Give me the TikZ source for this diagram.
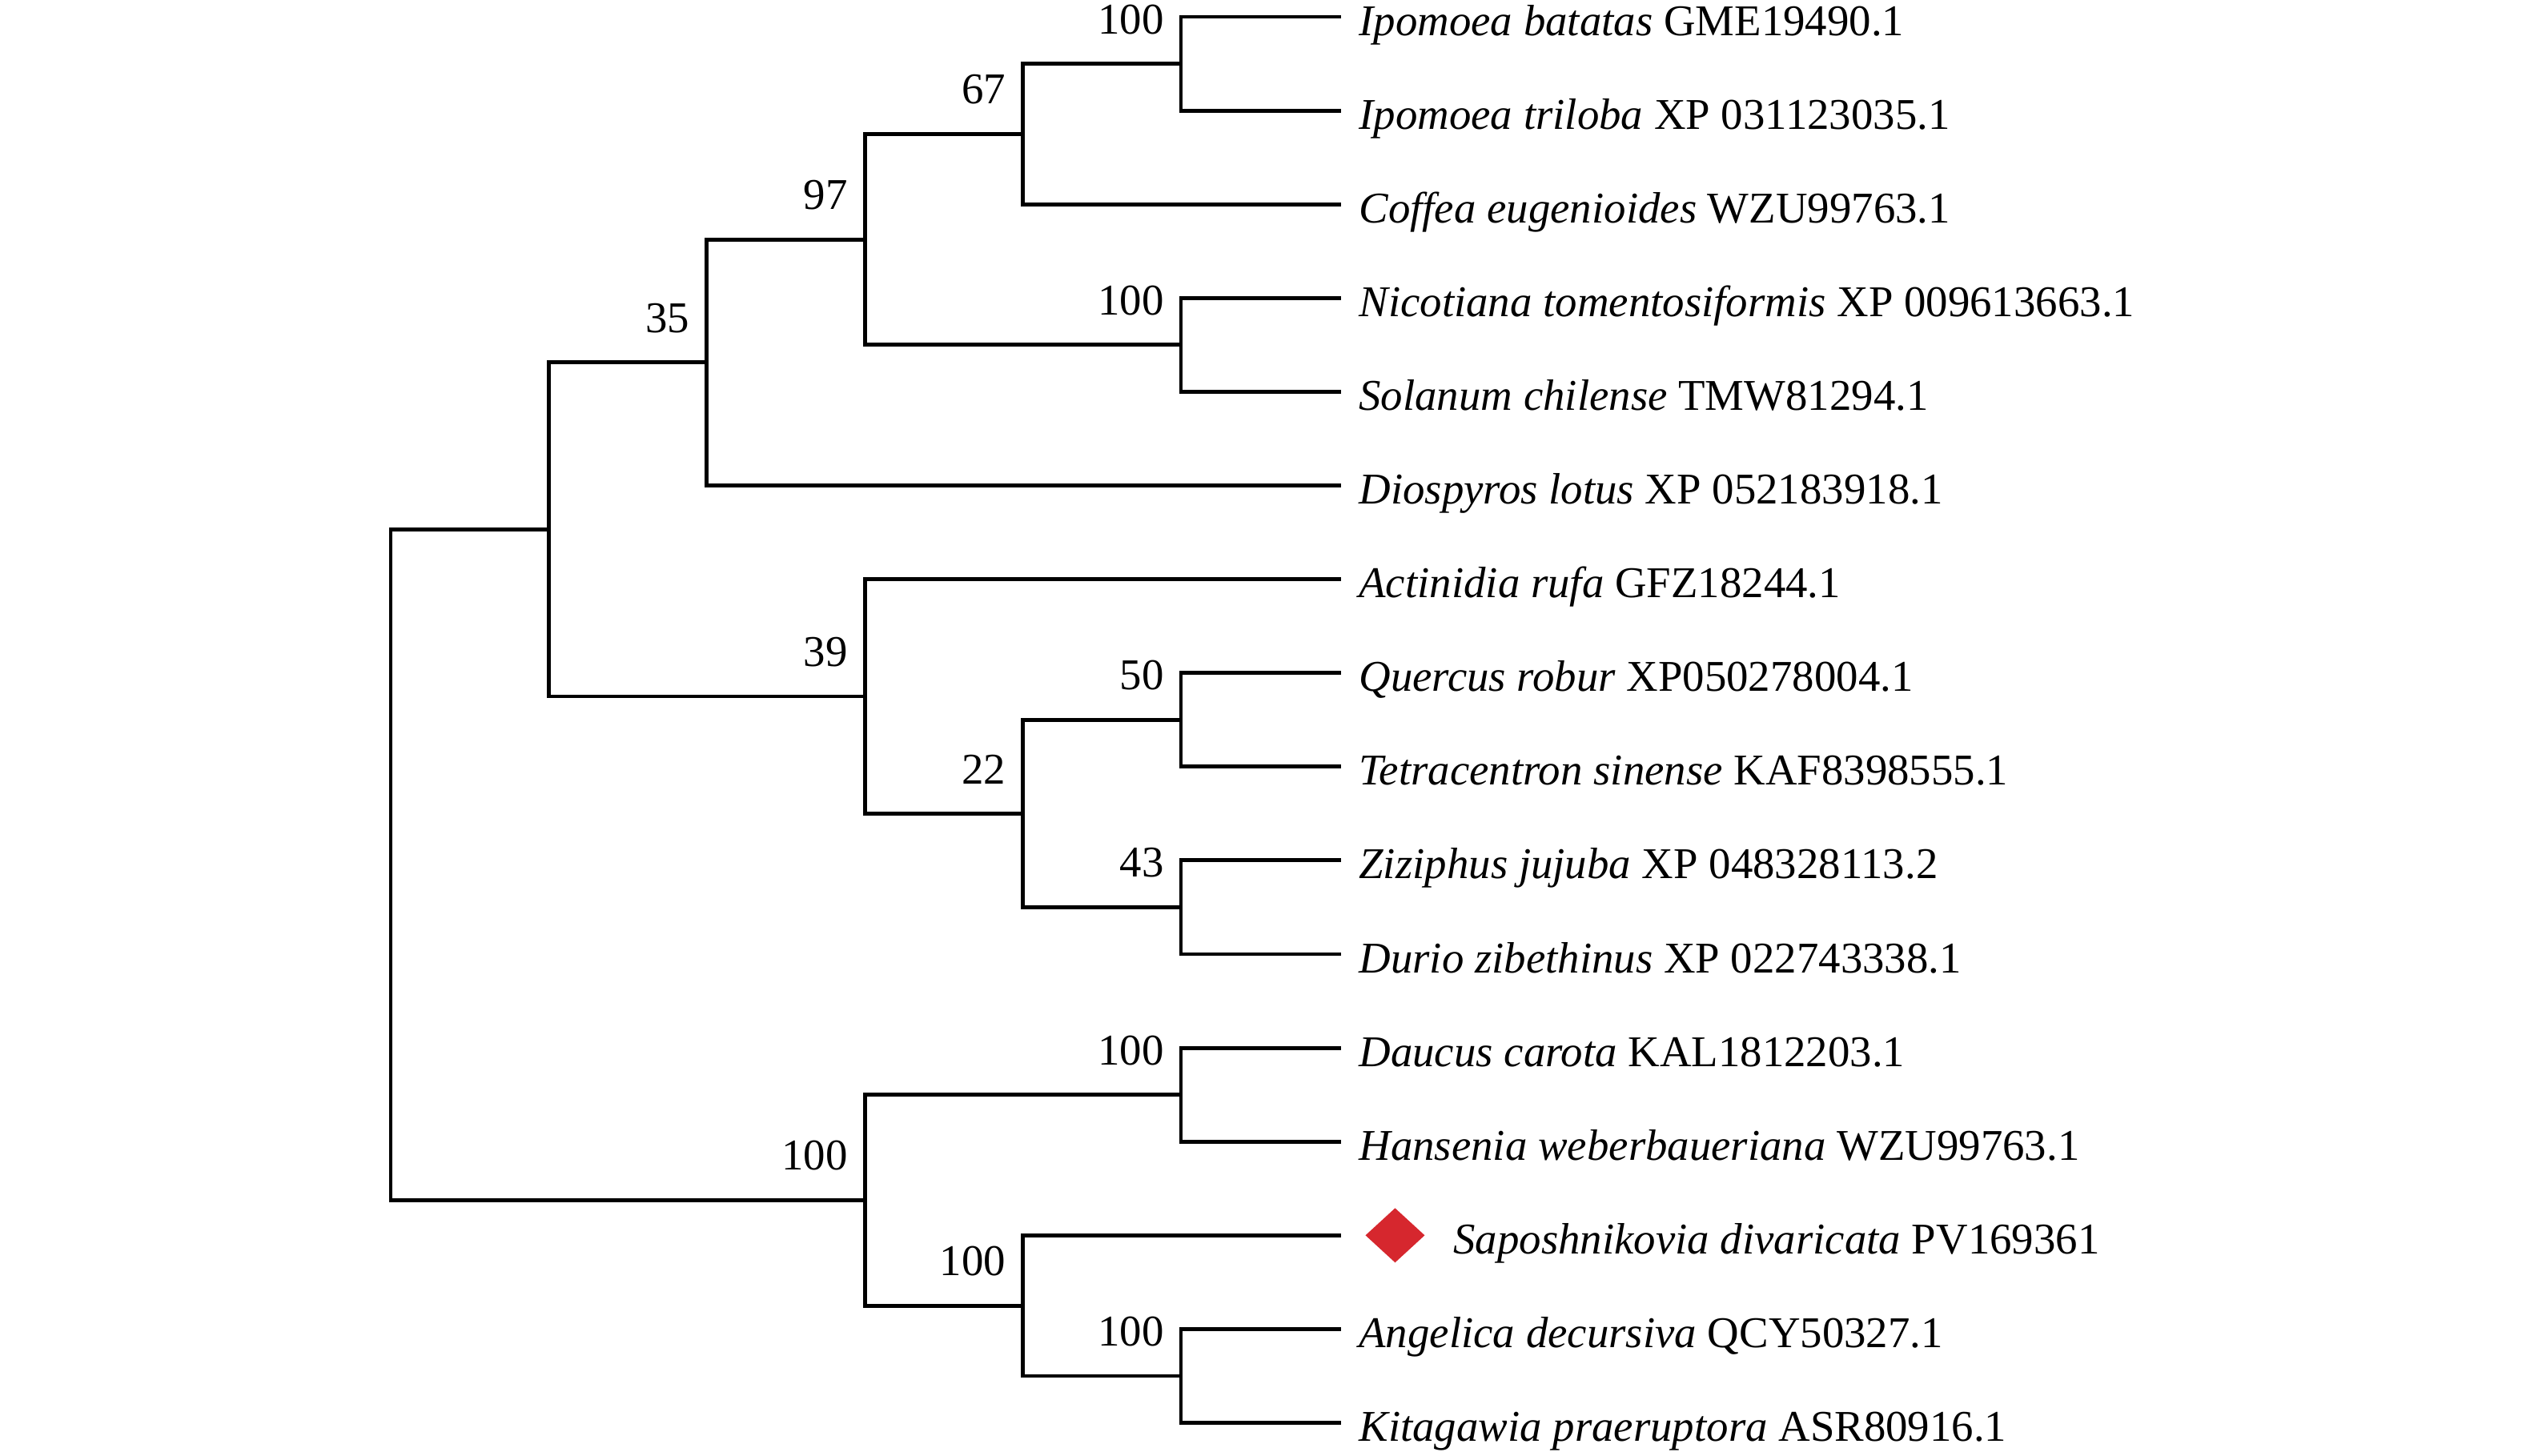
\documentclass[tikz,border=0pt]{standalone}
\usepackage{fontspec}
\setmainfont{Liberation Serif}
\usetikzlibrary{positioning,shapes.geometric}
\definecolor{markred}{RGB}{214,39,46}
\newcommand{\treefont}{\fontsize{15.6pt}{18pt}\selectfont}

\begin{document}
\begin{tikzpicture}
    [x=1cm,y=-1.171cm,line width=1.4pt,line cap=rect,
     every node/.style={font=\treefont},
     leaf/.style={anchor=west, inner xsep=0.22cm, inner ysep=0pt, text height=16.4pt, text depth=3.3pt},
     boot/.style={anchor=south east, inner sep=0pt, xshift=-0.19cm, yshift=0.345cm},
     hilite/.style={diamond, fill=markred, inner sep=0pt, minimum width=0.76cm, minimum height=0.70cm}]
  \useasboundingbox (0,-0.1793) rectangle (31.5,15.346);

  % internal nodes, y in leaf rows
  \coordinate (n0) at (4.88,9.046875);
  \coordinate (n1) at (6.854,5.46875);
  \coordinate (n2) at (8.828,3.6875);
  \coordinate (n3) at (10.802,2.375);
  \coordinate (n4) at (12.776,1.25);
  \coordinate (n5) at (14.75,0.5);
  \coordinate (n6) at (14.75,3.5);
  \coordinate (n7) at (10.802,7.25);
  \coordinate (n8) at (12.776,8.5);
  \coordinate (n9) at (14.75,7.5);
  \coordinate (n10) at (14.75,9.5);
  \coordinate (n11) at (10.802,12.625);
  \coordinate (n12) at (14.75,11.5);
  \coordinate (n13) at (12.776,13.75);
  \coordinate (n14) at (14.75,14.5);

  % leaves
  \foreach \i/\sp/\acc in {0/Ipomoea batatas/GME19490.1, 1/Ipomoea triloba/XP 031123035.1,
      2/Coffea eugenioides/WZU99763.1, 3/Nicotiana tomentosiformis/XP 009613663.1,
      4/Solanum chilense/TMW81294.1, 5/Diospyros lotus/XP 052183918.1,
      6/Actinidia rufa/GFZ18244.1, 7/Quercus robur/XP050278004.1,
      8/Tetracentron sinense/KAF8398555.1, 9/Ziziphus jujuba/XP 048328113.2,
      10/Durio zibethinus/XP 022743338.1, 11/Daucus carota/KAL1812203.1,
      12/Hansenia weberbaueriana/WZU99763.1, 14/Angelica decursiva/QCY50327.1,
      15/Kitagawia praeruptora/ASR80916.1}
    \node[leaf] (l\i) at (16.73,\i) {\textit{\sp} \acc};

  \coordinate (t13) at (16.73,13);
  \node[hilite, right=0.29cm of t13] (sdiam) {};
  \node[leaf, right=0.08cm of sdiam] (l13) {\textit{Saposhnikovia divaricata} PV169361};

  % branches
  \foreach \from/\to in {n0/n1, n0/n11, n1/n2, n1/n7, n2/n3, n2/l5, n3/n4, n3/n6,
      n4/n5, n4/l2, n5/l0, n5/l1, n6/l3, n6/l4, n7/l6, n7/n8, n8/n9, n8/n10,
      n9/l7, n9/l8, n10/l9, n10/l10, n11/n12, n11/n13, n12/l11, n12/l12,
      n13/t13, n13/n14, n14/l14, n14/l15}
    \draw (\from) |- (\to);

  % bootstrap values
  \foreach \n/\val in {n2/35, n3/97, n4/67, n5/100, n6/100, n7/39, n8/22, n9/50,
      n10/43, n11/100, n12/100, n13/100, n14/100}
    \node[boot] (b\n) at (\n) {\val};
\end{tikzpicture}
\end{document}
